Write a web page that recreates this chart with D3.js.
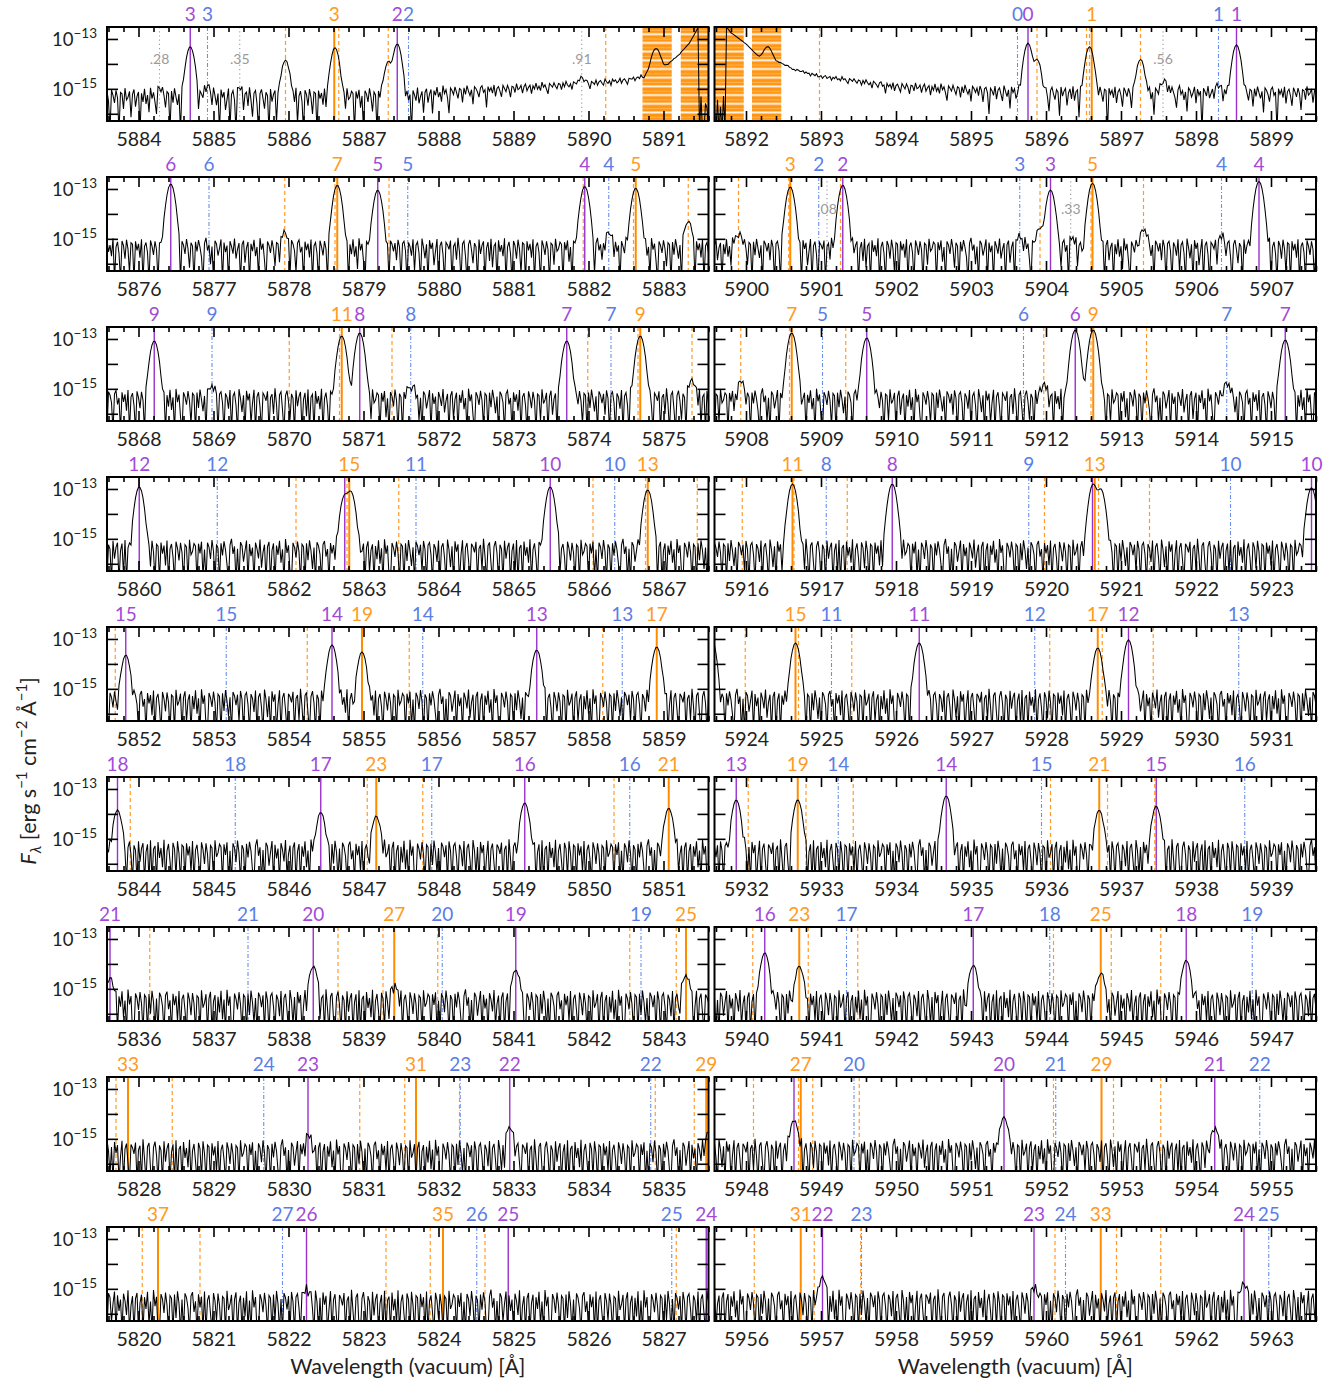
<!DOCTYPE html>
<html><head><meta charset="utf-8">
<script src="https://cdn.jsdelivr.net/npm/d3@7"></script>
<style>
body{margin:0;background:#fff;}
text{font-family:Lato,'Open Sans',sans-serif;}
</style>
</head><body>
<svg id="c" width="1338" height="1381"></svg>
<script>
// ---------------- data ----------------
const leftStarts  = [5883.58,5875.58,5867.58,5859.58,5851.58,5843.58,5835.58,5827.58,5819.58];
const rightStarts = [5891.58,5899.58,5907.58,5915.58,5923.58,5931.58,5939.58,5947.58,5955.58];
const panelSpan = 8.02;
const baseLogLeft  = [-15.3,-15.35,-15.4,-15.45,-15.45,-15.5,-15.5,-15.5,-15.55];
const baseLogRight = [-15.15,-15.35,-15.4,-15.45,-15.45,-15.5,-15.5,-15.45,-15.5];
const noiseSigma = 3.7e-16;
const lineWidthA = 0.035;
const pixelStep = 0.02;

// Na D wing (log flux)
const wingAnchors = [
 [5887.65,-15.3],[5888.0,-15.15],[5888.5,-15.07],[5889.0,-14.98],[5889.5,-14.88],[5890.0,-14.78],
 [5890.5,-14.65],[5890.75,-14.5],[5891.0,-14.15],[5891.2,-13.65],[5891.35,-13.15],[5891.46,-12.55],
 [5891.475,-17],[5891.725,-17],[5891.735,-12.5],[5891.8,-12.75],[5891.9,-12.97],[5892.0,-13.2],
 [5892.1,-13.5],[5892.17,-13.71],[5892.4,-13.9],[5892.5,-14.0],[5892.62,-14.2],[5892.97,-14.49],
 [5893.46,-14.68],[5893.9,-14.88],[5894.57,-14.98],[5895.23,-15.1],[5895.6,-15.12],[5896.0,-15.15]
];

// emission peaks [wavelength, log peak flux, optional width]
const peaks = [
 [5884.28,-15.0],[5884.69,-13.31],[5884.92,-14.9],[5885.35,-15.0],[5885.96,-13.85],[5886.62,-13.35],[5887.33,-13.91],[5887.45,-13.2],[5889.91,-14.55],[5890.90,-13.38,0.045],
 [5892.29,-13.31,0.045],[5895.76,-13.17],[5895.88,-13.82],[5896.58,-13.31],[5897.26,-13.82],[5897.58,-14.65],[5898.30,-14.85],[5898.54,-13.24],
 [5876.43,-12.8],[5877.95,-14.75],[5878.65,-12.85],[5879.19,-13.05],[5881.95,-12.9],[5882.27,-14.75],[5882.63,-12.97],[5883.33,-14.3],
 [5899.90,-14.75],[5900.59,-12.92],[5901.29,-12.85],[5903.65,-14.9],[5903.92,-14.54],[5904.06,-13.04],[5904.35,-14.98],[5904.62,-12.77],[5905.30,-14.61],[5906.34,-14.9],[5906.84,-12.7],
 [5868.21,-13.08],[5868.98,-14.9],[5870.71,-12.88],[5870.95,-12.76],[5871.63,-14.85],[5873.71,-13.08],[5874.69,-12.88],[5875.38,-14.65],
 [5907.93,-14.7],[5908.61,-12.76],[5909.61,-12.96],[5911.97,-14.8],[5912.39,-12.64],[5912.63,-12.64],[5914.41,-14.75],[5915.19,-13.04],
 [5860.01,-12.92],[5862.75,-13.25],[5862.83,-13.1],[5865.49,-12.92],[5866.79,-13.04],
 [5916.62,-12.8],[5917.95,-12.8],[5920.63,-12.8],[5920.73,-13.0],[5923.54,-12.95],
 [5851.83,-13.65],[5854.58,-13.24],[5854.98,-13.52],[5857.31,-13.44],[5858.91,-13.32],
 [5924.66,-13.16],[5926.31,-13.16],[5928.69,-13.36],[5929.10,-13.04],
 [5843.72,-13.85],[5846.43,-13.94],[5847.17,-14.09],[5849.15,-13.56],[5851.07,-13.77],
 [5931.87,-13.44],[5932.69,-13.44],[5934.67,-13.28],[5936.71,-13.85],[5937.47,-13.69],
 [5835.62,-14.57],[5838.33,-14.09],[5839.41,-14.85],[5841.03,-14.25],[5843.30,-14.45],
 [5940.25,-13.56],[5940.71,-14.09],[5943.03,-14.05],[5944.73,-14.37],[5945.87,-13.85],
 [5830.26,-14.85],[5832.95,-14.53],
 [5948.64,-14.25],[5951.44,-14.13],[5954.25,-14.57],
 [5822.24,-15.0],
 [5957.02,-14.54],[5959.84,-14.95],[5962.64,-14.79]
];

// pixel noise (in units of noiseSigma), read as typical scatter
const noise = [0.42,-1.31,0.77,-0.25,1.12,-0.88,0.05,-1.67,0.93,0.31,-0.54,1.46,-0.12,-1.02,0.66,0.18,-2.05,0.84,-0.37,1.21,
 0.02,-0.71,-1.44,0.57,1.73,-0.29,0.38,-0.95,0.11,-1.58,1.04,0.47,-0.63,-0.08,1.35,-1.19,0.72,-0.41,0.25,-1.86,
 0.96,0.14,-0.52,1.58,-0.77,-0.19,0.61,-1.27,0.33,1.09,-0.91,-0.03,0.81,-1.49,0.49,-0.34,1.28,-0.66,0.07,-1.12,
 1.67,-0.22,0.53,-0.84,-1.73,0.91,0.28,-0.47,1.16,-0.15,-0.99,0.69,0.36,-1.38,0.82,-0.58,1.41,-0.06,-0.79,0.24,
 -1.61,1.02,0.45,-0.31,-1.08,0.63,1.24,-0.44,0.09,-1.95,0.87,-0.26,0.55,-0.72,1.33,-1.21,0.19,0.74,-0.49,-1.35,
 1.07,0.12,-0.62,0.98,-0.17,-1.53,0.58,0.35,-0.93,1.52,-0.38,-0.11,0.79,-1.16,0.26,1.19,-0.83,-0.01,0.67,-1.42,
 0.43,-0.55,1.38,-0.69,0.16,-1.04,1.61,-0.28,0.51,-0.87,-1.79,0.88,0.21,-0.45,1.13,-0.21,-0.97,0.71,0.39,-1.29,
 0.85,-0.61,1.47,-0.09,-0.74,0.29,-1.52,1.06,0.44,-0.36,0.62,
 -0.83,1.27,0.06,-1.41,0.52,0.97,-0.33,-1.88,0.71,0.15,-0.64,1.36,-1.07,0.29,0.84,-0.48,-1.22,1.55,0.03,-0.76,
 0.41,-1.63,1.18,-0.14,0.66,-0.97,-0.35,1.42,-1.28,0.22,0.89,-0.57,-2.1,0.76,0.34,-0.18,1.08,-1.46,0.13,0.58,
 -0.81,1.74,-0.42,-1.15,0.47,0.99,-0.68,-1.57,0.37,1.23,-0.24,-0.92,0.62,0.08,-1.69,1.31,-0.53,0.27,0.94,-1.33,
 -0.07,0.78,-0.86,1.49,-1.01,0.18,0.56,-1.76,1.14,-0.39,0.31,-0.66,1.62,-1.24,0.04,0.83,-0.51,-1.47,1.01,0.23,
 -0.78,1.29,-0.16,-1.09,0.68,0.42,-1.91,0.95,-0.27,0.49,-0.73,1.37,-1.18,0.11,0.72,-0.45,-1.39,1.11,0.17,-0.59,
 0.93,-0.2,-1.56,0.61,0.32,-0.96,1.5,-0.34,-0.12,0.8];

const purpleLines = [[5884.69,"3"],[5887.45,"2"],[5895.76,"0"],[5898.54,"1"],[5876.43,"6"],[5879.19,"5"],[5881.95,"4"],[5901.29,"2"],[5904.06,"3"],[5906.84,"4"],
 [5868.21,"9"],[5870.95,"8"],[5873.71,"7"],[5909.61,"5"],[5912.39,"6"],[5915.19,"7"],[5860.01,"12"],[5862.75,""],[5865.49,"10"],[5917.95,"8"],[5920.62,""],[5923.54,"10"],
 [5851.83,"15"],[5854.58,"14"],[5857.31,"13"],[5926.31,"11"],[5929.10,"12"],[5843.72,"18"],[5846.43,"17"],[5849.15,"16"],[5931.87,"13"],[5934.67,"14"],[5937.47,"15"],
 [5835.62,"21"],[5838.33,"20"],[5841.03,"19"],[5940.25,"16"],[5943.03,"17"],[5945.87,"18"],[5830.26,"23"],[5832.95,"22"],[5948.64,""],[5951.44,"20"],[5954.25,"21"],
 [5822.24,"26"],[5824.93,"25"],[5827.57,"24"],[5957.02,"22"],[5959.84,"23"],[5962.64,"24"]];
const blueLines = [[5884.92,"3"],[5887.60,"2"],[5895.62,"0"],[5898.30,"1"],[5876.94,"6"],[5879.59,"5"],[5882.27,"4"],[5900.97,"2"],[5903.65,"3"],[5906.34,"4"],
 [5868.98,"9"],[5871.63,"8"],[5874.30,"7"],[5909.02,"5"],[5911.70,"6"],[5914.41,"7"],[5861.05,"12"],[5863.70,"11"],[5866.35,"10"],[5917.07,"8"],[5919.77,"9"],[5922.46,"10"],
 [5853.17,"15"],[5855.79,"14"],[5858.45,"13"],[5925.14,"11"],[5927.85,"12"],[5930.57,"13"],[5845.29,"18"],[5847.91,"17"],[5850.55,"16"],[5933.23,"14"],[5935.94,"15"],[5938.65,"16"],
 [5837.46,"21"],[5840.05,"20"],[5842.70,"19"],[5941.34,"17"],[5944.05,"18"],[5946.75,"19"],[5829.67,"24"],[5832.29,"23"],[5834.83,"22"],[5949.44,"20"],[5952.13,"21"],[5954.85,"22"],
 [5821.92,"27"],[5824.51,"26"],[5827.11,"25"],[5957.54,"23"],[5960.26,"24"],[5962.97,"25"]];
const orangeSolid = [[5886.61,"3"],[5896.61,"1"],[5878.65,"7"],[5882.63,"5"],[5900.59,"3"],[5904.62,"5"],[5870.71,"11"],[5874.69,"9"],[5908.61,"7"],[5912.63,"9"],
 [5862.81,"15"],[5866.79,"13"],[5916.62,"11"],[5920.65,"13"],[5854.98,"19"],[5858.91,"17"],[5924.66,"15"],[5928.69,"17"],[5847.17,"23"],[5851.07,"21"],[5932.69,"19"],[5936.71,"21"],
 [5839.41,"27"],[5843.30,"25"],[5940.71,"23"],[5944.73,"25"],[5831.70,"31"],[5835.57,"29"],[5827.86,"33"],[5948.73,"27"],[5952.74,"29"],[5820.26,"37"],[5824.06,"35"],[5956.73,"31"],[5960.73,"33"]];
const orangeDashed = [5885.96,5886.67,5887.33,5890.23,5892.98,5895.88,5896.54,5896.58,5897.26,
 5877.95,5878.62,5879.34,5881.93,5882.60,5883.33,5899.90,5900.57,5901.26,5903.92,5904.60,5905.30,
 5870.01,5870.68,5871.38,5873.99,5874.66,5875.38,5907.93,5908.58,5909.33,5911.97,5912.60,5913.34,
 5862.10,5862.78,5863.47,5866.06,5866.76,5867.45,5915.95,5916.64,5917.35,5919.98,5920.70,5921.38,
 5851.69,5854.25,5855.61,5858.19,5923.99,5924.70,5925.41,5928.05,5928.75,5929.43,
 5843.89,5847.05,5847.79,5850.34,5932.03,5932.80,5933.43,5936.06,5936.82,5937.45,
 5836.15,5838.66,5839.26,5839.99,5842.55,5843.17,5940.09,5940.83,5941.49,5944.10,5944.87,5945.53,
 5827.70,5828.45,5830.95,5831.55,5832.28,5834.89,5835.41,5948.10,5948.70,5948.89,5949.51,5952.10,5952.90,5953.53,
 5820.05,5820.82,5823.30,5823.89,5824.62,5827.17,5956.11,5956.91,5957.53,5960.12,5960.94,5961.53];
const greyLines = [[5884.28,".28"],[5885.35,".35"],[5889.91,".91"],[5897.56,".56"],[5901.08,".08"],[5904.33,".33"]];
const masks = [[5890.72,5891.11],[5891.23,5891.97],[5892.08,5892.47]];
const yTickDecades = [-16,-15,-14,-13];
const yLabelDecades = [[-13,"−13"],[-15,"−15"]];
const yDomainLog = [-16.29,-12.52];

// ---------------- layout ----------------
const colX = [107, 714.5], panelW = 601.5, rowTop0 = 27, rowStep = 150, panelH = 94;
const PURPLE="#9932CC", PURPLE_T="#a24ad8", BLUE="#6a8ef0", BLUE_T="#5a7de6", ORANGE="#ff8c00", ORANGE_T="#ff9a22", GREY="#9a9a9a";

const svg = d3.select("#c");
const defs = svg.append("defs");
const pat = defs.append("pattern").attr("id","hatch").attr("width",8).attr("height",8.7).attr("patternUnits","userSpaceOnUse");
pat.append("rect").attr("width",8).attr("height",8.7).attr("fill","#ff8c00").attr("opacity",0.92);
pat.append("rect").attr("y",6.2).attr("width",8).attr("height",2).attr("fill","#fff").attr("opacity",0.9);
pat.append("rect").attr("y",2.8).attr("width",8).attr("height",0.9).attr("fill","#ffd090").attr("opacity",0.6);

const y = d3.scaleLog().domain([10**yDomainLog[0],10**yDomainLog[1]]).range([panelH,0]);

function contLog(l, base){
  const a = wingAnchors;
  if(l >= a[0][0] && l <= a[a.length-1][0]){
    for(let i=0;i<a.length-1;i++){
      if(l>=a[i][0] && l<=a[i+1][0]){
        const t=(l-a[i][0])/(a[i+1][0]-a[i][0]);
        return a[i][1]+t*(a[i+1][1]-a[i][1]);
      }
    }
  }
  return base;
}

const panels = [];
for(let r=0;r<9;r++){
  panels.push({col:0,r,start:leftStarts[r],base:baseLogLeft[r]});
  panels.push({col:1,r,start:rightStarts[r],base:baseLogRight[r]});
}

panels.forEach((p,pi)=>{
  const x0 = colX[p.col], y0 = rowTop0 + rowStep*p.r;
  const lo = p.start, hi = p.start+panelSpan;
  const x = d3.scaleLinear().domain([lo,hi]).range([0,panelW]);
  const g = svg.append("g").attr("transform",`translate(${x0},${y0})`);
  const cid = "clip"+pi;
  defs.append("clipPath").attr("id",cid).append("rect").attr("width",panelW).attr("height",panelH);
  const inner = g.append("g").attr("clip-path",`url(#${cid})`);

  masks.filter(m=>m[1]>lo && m[0]<hi).forEach(m=>{
    inner.append("rect").attr("x",x(m[0])).attr("y",0).attr("width",x(m[1])-x(m[0])).attr("height",panelH).attr("fill","url(#hatch)");
  });

  const inR = l => l>=lo && l<=hi;
  orangeDashed.filter(inR).forEach(l=>{
    inner.append("line").attr("x1",x(l)).attr("x2",x(l)).attr("y1",0).attr("y2",panelH)
      .attr("stroke","#ff9a2a").attr("stroke-width",1.2).attr("stroke-dasharray","4,3");
  });
  greyLines.filter(d=>inR(d[0])).forEach(d=>{
    inner.append("line").attr("x1",x(d[0])).attr("x2",x(d[0])).attr("y1",0).attr("y2",panelH)
      .attr("stroke",GREY).attr("stroke-width",1.1).attr("stroke-dasharray","1.2,3");
  });
  blueLines.filter(d=>inR(d[0])).forEach(d=>{
    inner.append("line").attr("x1",x(d[0])).attr("x2",x(d[0])).attr("y1",0).attr("y2",panelH)
      .attr("stroke",BLUE).attr("stroke-width",1.1).attr("stroke-dasharray","4,2,1,2");
  });
  purpleLines.filter(d=>inR(d[0])).forEach(d=>{
    inner.append("line").attr("x1",x(d[0])).attr("x2",x(d[0])).attr("y1",0).attr("y2",panelH)
      .attr("stroke",PURPLE).attr("stroke-width",1.4);
  });
  orangeSolid.filter(d=>inR(d[0])).forEach(d=>{
    inner.append("line").attr("x1",x(d[0])).attr("x2",x(d[0])).attr("y1",0).attr("y2",panelH)
      .attr("stroke",ORANGE).attr("stroke-width",2);
  });

  // spectrum
  const k0 = 5819;
  const kLo = Math.floor((lo-0.06-k0)/pixelStep), kHi = Math.ceil((hi+0.06-k0)/pixelStep);
  const myPeaks = peaks.filter(q=>q[0]>lo-0.5 && q[0]<hi+0.5).map(q=>{
    const c = 10**contLog(q[0],p.base);
    return [q[0], Math.max(10**q[1]-c,0), q[2]||lineWidthA];
  });
  const spec = [];
  const N = noise.length;
  for(let k=kLo;k<=kHi;k++){
    const l = k0 + k*pixelStep;
    let f = 10**contLog(l,p.base);
    myPeaks.forEach(q=>{ const d=(l-q[0])/q[2]; if(Math.abs(d)<7) f += q[1]*Math.exp(-0.5*d*d); });
    f += noiseSigma*noise[((k%N)+N)%N];
    if(f < 2e-17) f = 2e-17;
    spec.push([l,f]);
  }
  inner.append("path").datum(spec)
    .attr("d", d3.line().x(d=>x(d[0])).y(d=>y(d[1])))
    .attr("fill","none").attr("stroke","#000").attr("stroke-width",1.05).attr("stroke-linejoin","miter");

  const lab = (arr,color)=>arr.filter(d=>inR(d[0]) && d[1]!=="").forEach(d=>{
    g.append("text").attr("x",x(d[0])).attr("y",-6).attr("text-anchor","middle")
      .attr("font-size",19).attr("fill",color).text(d[1]);
  });
  lab(blueLines,BLUE_T); lab(purpleLines,PURPLE_T); lab(orangeSolid,ORANGE_T);
  greyLines.filter(d=>inR(d[0])).forEach(d=>{
    g.append("text").attr("x",x(d[0])).attr("y",37).attr("text-anchor","middle")
      .attr("font-size",14).attr("fill",GREY).text(d[1]);
  });

  const majors = d3.range(Math.ceil(lo),Math.floor(hi)+1);
  const minors = d3.range(Math.ceil(lo*5),Math.floor(hi*5)+1).map(v=>v/5).filter(v=>Math.abs(v-Math.round(v))>1e-6);
  const styleAx = sel=>{ sel.select(".domain").remove(); sel.selectAll("line").attr("stroke","#000").attr("stroke-width",1.6); };
  g.append("g").attr("transform",`translate(0,${panelH})`)
    .call(d3.axisBottom(x).tickValues(majors).tickSize(-10).tickPadding(11).tickFormat(d3.format("d")))
    .call(styleAx).selectAll("text").attr("font-size",19.5).attr("fill","#222").attr("font-family","Lato,'Open Sans',sans-serif");
  g.append("g").attr("transform",`translate(0,${panelH})`).call(d3.axisBottom(x).tickValues(minors).tickSize(-5).tickFormat("")).call(styleAx);
  g.append("g").call(d3.axisTop(x).tickValues(majors).tickSize(-10).tickFormat("")).call(styleAx);
  g.append("g").call(d3.axisTop(x).tickValues(minors).tickSize(-5).tickFormat("")).call(styleAx);
  const yt = yTickDecades.map(e=>10**e);
  g.append("g").call(d3.axisLeft(y).tickValues(yt).tickSize(-11).tickFormat("")).call(styleAx);
  g.append("g").attr("transform",`translate(${panelW},0)`).call(d3.axisRight(y).tickValues(yt).tickSize(-11).tickFormat("")).call(styleAx);

  if(p.col===0){
    yLabelDecades.forEach(([e,s])=>{
      const t = g.append("text").attr("x",-10).attr("y",y(10**e)+7).attr("text-anchor","end").attr("fill","#222").attr("font-size",18.5);
      t.append("tspan").text("10");
      t.append("tspan").attr("dy",-8).attr("font-size",13.5).text(s);
    });
  }
  g.append("rect").attr("width",panelW).attr("height",panelH).attr("fill","none").attr("stroke","#000").attr("stroke-width",2);
});

[0,1].forEach(c=>{
  svg.append("text").attr("x",colX[c]+panelW/2).attr("y",1374).attr("text-anchor","middle")
    .attr("font-size",21.5).attr("fill","#222").text("Wavelength (vacuum) [Å]");
});
const ylab = svg.append("text").attr("transform","translate(36,771) rotate(-90)").attr("text-anchor","middle").attr("font-size",21.5).attr("fill","#222");
ylab.append("tspan").attr("font-style","italic").text("F");
ylab.append("tspan").attr("dy",5).attr("font-size",15).attr("font-style","italic").text("λ");
ylab.append("tspan").attr("dy",-5).text(" [erg s");
ylab.append("tspan").attr("dy",-9).attr("font-size",15).text("−1");
ylab.append("tspan").attr("dy",9).text(" cm");
ylab.append("tspan").attr("dy",-9).attr("font-size",15).text("−2");
ylab.append("tspan").attr("dy",9).text(" Å");
ylab.append("tspan").attr("dy",-9).attr("font-size",15).text("−1");
ylab.append("tspan").attr("dy",9).text("]");
</script>
</body></html>
